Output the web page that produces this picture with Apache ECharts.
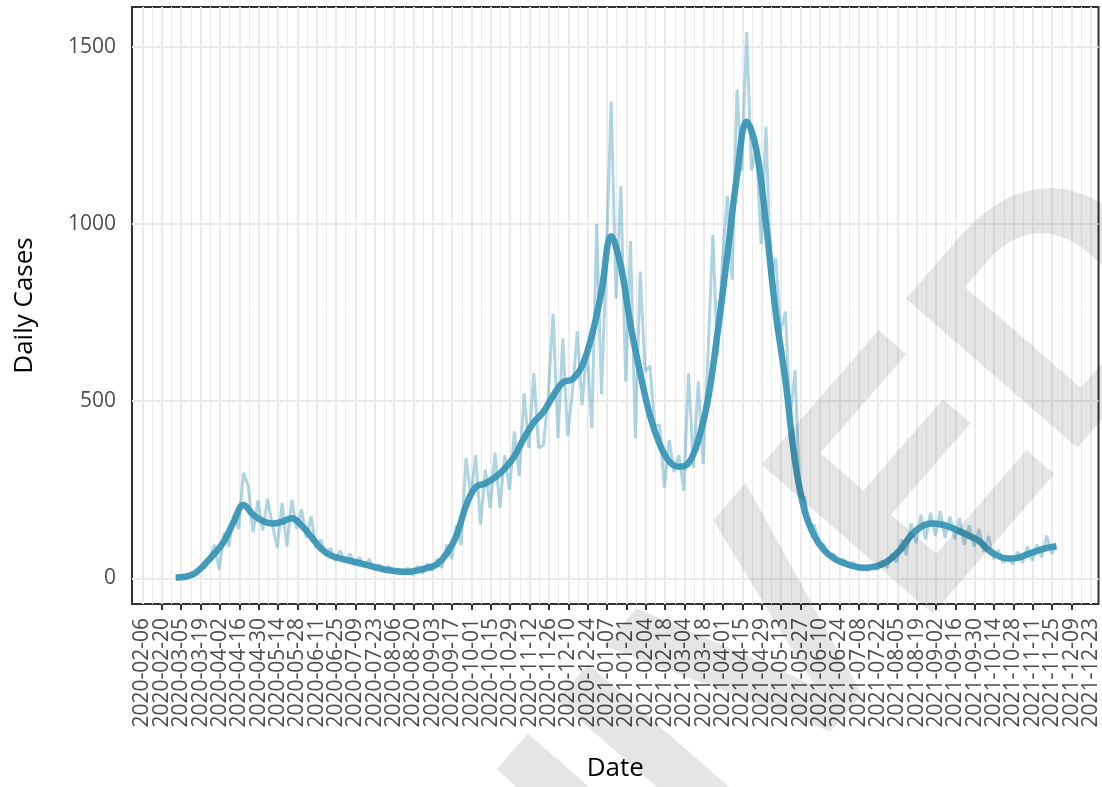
<!DOCTYPE html>
<html>
<head>
<meta charset="utf-8">
<script src="https://cdn.jsdelivr.net/npm/echarts@6/dist/echarts.min.js"></script>
<style>
html, body { margin: 0; padding: 0; background: #fff; }
#chart { width: 1102px; height: 787px; }
</style>
</head>
<body>
<div id="chart"></div>
<script>
// tick labels on the date axis (every 14 days)
var tickLabels = [
  '2020-02-06','2020-02-20','2020-03-05','2020-03-19','2020-04-02','2020-04-16','2020-04-30',
  '2020-05-14','2020-05-28','2020-06-11','2020-06-25','2020-07-09','2020-07-23','2020-08-06',
  '2020-08-20','2020-09-03','2020-09-17','2020-10-01','2020-10-15','2020-10-29','2020-11-12',
  '2020-11-26','2020-12-10','2020-12-24','2021-01-07','2021-01-21','2021-02-04','2021-02-18',
  '2021-03-04','2021-03-18','2021-04-01','2021-04-15','2021-04-29','2021-05-13','2021-05-27',
  '2021-06-10','2021-06-24','2021-07-08','2021-07-22','2021-08-05','2021-08-19','2021-09-02',
  '2021-09-16','2021-09-30','2021-10-14','2021-10-28','2021-11-11','2021-11-25','2021-12-09',
  '2021-12-23'
];
var yTicks = [0, 500, 1000, 1500];

// smoothed trend, one value per week from smoothStart
var smoothStart = '2020-03-01';
var smoothValues = [
  3, 5, 15, 40, 70, 105, 160, 207, 180, 162,
  155, 160, 170, 150, 118, 85, 65, 57, 50, 43,
  36, 29, 23, 20, 19, 23, 30, 40, 70, 120,
  205, 258, 268, 285, 310, 345, 396, 440, 470, 515,
  553, 562, 600, 685, 810, 965, 880, 715, 580, 460,
  380, 330, 315, 326, 390, 505, 695, 912, 1135, 1288,
  1210, 1000, 750, 560, 330, 190, 120, 80, 57, 44,
  35, 30, 32, 40, 58, 85, 122, 145, 155, 153,
  145, 133, 120, 106, 80, 63, 56, 58, 68, 78,
  86, 91
];

// raw daily cases, sampled twice a week from rawStart
var rawStart = '2020-03-01';
var rawValues = [
  2, 5, 4, 8, 10, 25, 30, 55, 95, 25,
  130, 90, 180, 140, 298, 260, 130, 220, 135, 225,
  150, 87, 213, 90, 222, 140, 195, 115, 175, 85,
  110, 65, 85, 50, 79, 45, 70, 38, 60, 32,
  55, 25, 40, 22, 35, 15, 28, 12, 30, 10,
  35, 14, 42, 22, 55, 30, 95, 55, 150, 95,
  340, 230, 348, 152, 306, 199, 354, 200, 348, 250,
  415, 289, 522, 368, 579, 368, 376, 517, 747, 396,
  677, 402, 528, 697, 489, 657, 424, 1000, 520, 910,
  1345, 789, 1107, 556, 952, 396, 866, 584, 600, 430,
  433, 256, 390, 300, 348, 247, 579, 312, 556, 323,
  629, 969, 629, 900, 1079, 843, 1379, 1150, 1541, 1152,
  1214, 944, 1275, 843, 904, 694, 753, 452, 587, 230,
  230, 150, 150, 100, 95, 65, 70, 45, 55, 35,
  45, 28, 36, 22, 40, 25, 50, 30, 70, 45,
  110, 65, 155, 100, 180, 110, 185, 120, 190, 115,
  175, 110, 170, 95, 150, 90, 140, 75, 120, 55,
  80, 45, 60, 40, 75, 45, 90, 50, 95, 60,
  121, 70, 95
];

var DAY = 86400000;
var base = Date.UTC(2020, 1, 6);
function dayOf(s) {
  var p = s.split('-');
  return (Date.UTC(+p[0], +p[1] - 1, +p[2]) - base) / DAY;
}
function labelOf(d) {
  return new Date(base + Math.round(d) * DAY).toISOString().slice(0, 10);
}

var tickDays = tickLabels.map(dayOf);
var edgeDays = [tickDays[0], tickDays[tickDays.length - 1]];
var minorDays = tickDays.map(function (d) { return d + 7; });
var smoothData = smoothValues.map(function (v, i) { return [dayOf(smoothStart) + 7 * i, v]; });
var rawData = rawValues.map(function (v, i) { return [dayOf(rawStart) + 3.5 * i, v]; });

var font = 'Open Sans';
var xMin = -7.6, xMax = 691.5;
var labelStyle = { rotate: 90, margin: 14, fontFamily: font, fontSize: 21, color: '#4d4d4d', formatter: labelOf };
var chart = echarts.init(document.getElementById('chart'));

var option = {
  animation: false,
  backgroundColor: '#fff',
  grid: {
    left: 132, top: 7, right: 3.5, bottom: 180.5,
    show: true, borderColor: '#333', borderWidth: 2, backgroundColor: 'transparent'
  },
  xAxis: [{
    type: 'value', min: xMin, max: xMax, position: 'bottom',
    name: 'Date', nameLocation: 'middle', nameGap: 152,
    nameTextStyle: { fontFamily: font, fontSize: 26, color: '#000' },
    axisLine: { show: false, onZero: false },
    axisTick: { show: true, customValues: tickDays, length: 6, lineStyle: { color: '#333', width: 2 } },
    axisLabel: Object.assign({ customValues: tickDays, showMinLabel: false, showMaxLabel: false }, labelStyle),
    splitLine: { show: true, lineStyle: { color: '#ebebeb', width: 2 } }
  }, {
    type: 'value', min: xMin, max: xMax, position: 'top',
    axisLine: { show: false, onZero: false },
    axisLabel: { show: false },
    axisTick: { show: false, customValues: minorDays },
    splitLine: { show: true, lineStyle: { color: '#ebebeb', width: 1 } }
  }, {
    type: 'value', min: xMin, max: xMax, position: 'bottom',
    axisLine: { show: false, onZero: false },
    axisTick: { show: false, customValues: edgeDays },
    axisLabel: Object.assign({ customValues: edgeDays, showMinLabel: true, showMaxLabel: true }, labelStyle),
    splitLine: { show: false }
  }],
  yAxis: {
    type: 'value', min: -72, max: 1612,
    name: 'Daily Cases', nameLocation: 'middle', nameGap: 94, nameRotate: 90,
    nameTextStyle: { fontFamily: font, fontSize: 26, color: '#000' },
    axisLine: { show: false },
    axisTick: { show: false, customValues: yTicks },
    axisLabel: {
      customValues: yTicks, margin: 16, fontFamily: font, fontSize: 21, color: '#4d4d4d',
      formatter: function (v) { return String(v); }
    },
    splitLine: { show: true, lineStyle: { color: '#ebebeb', width: 2 } }
  },
  graphic: [{
    type: 'text', x: 585, y: 875, rotation: 0.855, z: 100, silent: true,
    style: {
      text: 'ARCHIVED', fontSize: 330, fontFamily: 'Liberation Sans', fontWeight: 'bold',
      fill: 'rgba(0,0,0,0.10)', align: 'center', verticalAlign: 'middle'
    }
  }],
  series: [{
    name: 'raw', type: 'line', xAxisIndex: 0, data: rawData,
    symbol: 'none', z: 2,
    lineStyle: { color: '#3a96b6', width: 3, opacity: 0.4 }
  }, {
    name: 'smooth', type: 'line', xAxisIndex: 0, data: smoothData,
    symbol: 'none', smooth: 0.4, z: 3,
    lineStyle: { color: '#3a96b6', width: 6.5, opacity: 0.95 }
  }]
};

chart.setOption(option);
</script>
</body>
</html>
